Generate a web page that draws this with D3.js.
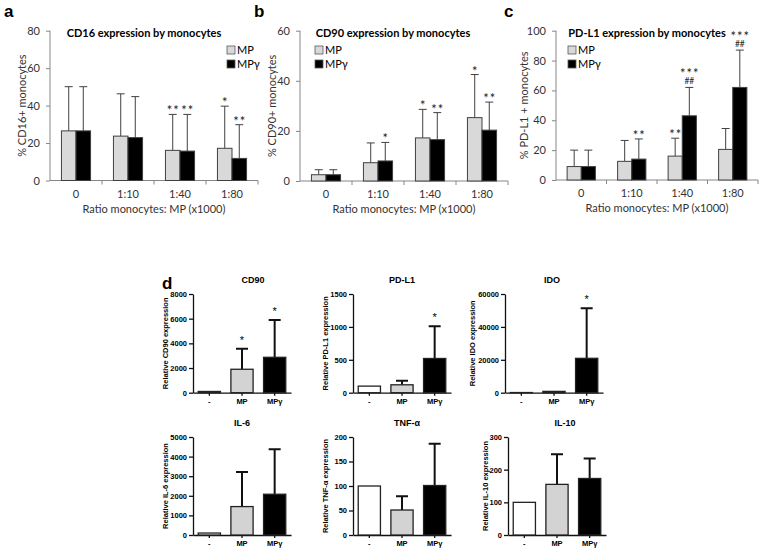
<!DOCTYPE html>
<html>
<head>
<meta charset="utf-8">
<script src="https://cdn.jsdelivr.net/npm/d3@7"></script>
<style>
  body { margin: 0; background: #fff; }
  svg { display: block; }
</style>
</head>
<body>
<script>
// ********************** DATA **************************************************************
// panels a-c : % positive monocytes (mean, SD), by monocyte:MP ratio
var ratios = ["0", "1:10", "1:40", "1:80"];
var seriesNames = ["MP", "MPγ"];

var cd16MP = [26.5, 23.7, 16.1, 17.2];
var cd16MPsd = [23.6, 22.6, 19.2, 22.5];
var cd16MPg = [26.5, 22.9, 15.7, 11.8];
var cd16MPgsd = [23.6, 21.9, 19.6, 18.0];
var cd16Stars = [["", ""], ["", ""], ["**", "**"], ["*", "**"]];

var cd90MP = [2.5, 7.3, 17.2, 25.3];
var cd90MPsd = [2.0, 7.9, 11.4, 17.2];
var cd90MPg = [2.5, 8.0, 16.5, 20.3];
var cd90MPgsd = [2.0, 7.4, 10.8, 11.2];
var cd90Stars = [["", ""], ["", "*"], ["*", "**"], ["*", "**"]];

var pdl1MP = [9.0, 12.5, 16.0, 20.5];
var pdl1MPsd = [11.0, 14.0, 12.0, 14.0];
var pdl1MPg = [9.0, 14.0, 43.0, 62.0];
var pdl1MPgsd = [11.0, 13.5, 19.0, 25.0];
var pdl1Stars = [["", ""], ["", "**"], ["**", "***"], ["", "***"]];
var pdl1Hash = [["", ""], ["", ""], ["", "##"], ["", "##"]];

// panel d : relative expression (mean, SD)
var groups = ["-", "MP", "MPγ"];

var relCD90 = [100, 1900, 2870];
var relCD90sd = [0, 1670, 3020];
var relCD90Stars = ["", "*", "*"];

var relPDL1 = [100, 120, 520];
var relPDL1sd = [0, 60, 490];
var relPDL1Stars = ["", "", "*"];

var relIDO = [100, 800, 20900];
var relIDOsd = [0, 0, 30400];
var relIDOStars = ["", "", "*"];

var relIL6 = [100, 1450, 2080];
var relIL6sd = [0, 1770, 2300];

var relTNF = [100, 51, 101];
var relTNFsd = [0, 28, 85];

var relIL10 = [100, 155, 173];
var relIL10sd = [0, 92, 61];

// ********************** SVG **************************************************************
var svg = d3.select("body").append("svg")
  .attr("width", 760)
  .attr("height", 550);

var excelFont = "Lato, 'Open Sans', sans-serif";
var prismFont = "'Liberation Sans', Arial, sans-serif";

// panel letters
[["a", 4, 17], ["b", 254, 17], ["c", 504, 17], ["d", 162, 289]].forEach(function(l) {
  svg.append("text")
    .attr("x", l[1])
    .attr("y", l[2])
    .text(l[0])
    .style("font-size", "17px")
    .style("font-weight", "bold")
    .style("font-family", "'Liberation Sans', Arial, sans-serif");
});

// ********************** EXCEL STYLE PANELS (a - c) ***************************************
function excelPanel(o) {
  var g = svg.append("g");

  var y = d3.scaleLinear().domain([0, o.max]).range([o.y0, o.y1]);
  var x = d3.scaleBand().domain(ratios).range([o.x0, o.x1]).paddingInner(0.44).paddingOuter(0.22);
  var xs = d3.scaleBand().domain(seriesNames).range([0, x.bandwidth()]);

  // y axis
  var yAxis = g.append("g")
    .attr("transform", "translate(" + o.x0 + ",0)")
    .call(d3.axisLeft(y).tickValues(d3.range(0, o.max + 1, o.step)).tickSize(4).tickPadding(6));
  yAxis.selectAll("line, path").attr("stroke", "#868686");
  yAxis.select(".domain").attr("d", "M0," + o.y0 + "V" + o.y1);
  yAxis.selectAll("text").style("font-size", "11px").style("font-family", excelFont).attr("fill", "#333");

  // x axis with ticks between categories
  var xb = d3.scaleLinear().domain([0, ratios.length]).range([o.x0, o.x1]);
  g.append("line")
    .attr("x1", o.x0).attr("x2", o.x1)
    .attr("y1", o.y0).attr("y2", o.y0)
    .attr("stroke", "#868686");
  g.selectAll(".xtick").data(d3.range(1, ratios.length + 1)).enter().append("line")
    .attr("x1", function(d) { return xb(d); })
    .attr("x2", function(d) { return xb(d); })
    .attr("y1", o.y0).attr("y2", o.y0 + 4)
    .attr("stroke", "#868686");
  g.selectAll(".xlab").data(ratios).enter().append("text")
    .attr("x", function(d) { return x(d) + x.bandwidth() / 2; })
    .attr("y", o.y0 + 17)
    .attr("text-anchor", "middle")
    .text(function(d) { return d; })
    .style("font-size", "11px")
    .style("font-family", excelFont)
    .attr("fill", "#333");

  var series = [
    { name: "MP", mean: o.mp, sd: o.mpsd, fill: "#d9d9d9" },
    { name: "MPγ", mean: o.mpg, sd: o.mpgsd, fill: "#000" }
  ];

  series.forEach(function(s, si) {
    // error bars (upper only)
    g.selectAll(".err" + si).data(ratios).enter().append("path")
      .attr("d", function(d, i) {
        var cx = x(d) + xs(s.name) + xs.bandwidth() / 2;
        var top = y(s.mean[i] + s.sd[i]);
        return "M" + cx + "," + y(s.mean[i]) + "V" + top + "M" + (cx - 4) + "," + top + "H" + (cx + 4);
      })
      .attr("stroke", "#404040")
      .attr("stroke-width", 1)
      .attr("fill", "none");

    g.selectAll(".bar" + si).data(ratios).enter().append("rect")
      .attr("x", function(d) { return x(d) + xs(s.name); })
      .attr("y", function(d, i) { return y(s.mean[i]); })
      .attr("width", xs.bandwidth())
      .attr("height", function(d, i) { return o.y0 - y(s.mean[i]); })
      .attr("fill", s.fill)
      .attr("stroke", "#404040")
      .attr("stroke-width", 1);

    // significance marks (stars, with ## underneath when present)
    var marks = g.selectAll(".star" + si).data(ratios).enter().append("text")
      .filter(function(d, i) { return o.stars[i][si] !== ""; })
      .attr("text-anchor", "middle")
      .style("font-family", excelFont)
      .attr("fill", "#222");

    marks.each(function(d) {
      var i = ratios.indexOf(d);
      var cx = x(d) + xs(s.name) + xs.bandwidth() / 2;
      var top = y(s.mean[i] + s.sd[i]);
      var hash = o.hash ? o.hash[i][si] : "";
      var t = d3.select(this);
      if (hash !== "") {
        t.append("tspan")
          .attr("x", cx + 0.5).attr("y", top - 9)
          .style("font-size", "13px").style("letter-spacing", "1px")
          .text(o.stars[i][si]);
        t.append("tspan")
          .attr("x", cx).attr("y", top - 3.5)
          .style("font-size", "8.5px")
          .text(hash);
      } else {
        t.append("tspan")
          .attr("x", cx + 0.5).attr("y", top + 1)
          .style("font-size", "13px").style("letter-spacing", "1px")
          .text(o.stars[i][si]);
      }
    });
  });

  // title
  g.append("text")
    .attr("x", o.titleX)
    .attr("y", 37)
    .attr("text-anchor", "middle")
    .text(o.title)
    .style("font-size", "11px")
    .style("font-weight", "bold")
    .style("font-family", excelFont);

  // legend
  series.forEach(function(s, i) {
    g.append("rect")
      .attr("x", o.legX)
      .attr("y", o.legY + i * 14 - 4)
      .attr("width", 8)
      .attr("height", 8)
      .attr("fill", s.fill)
      .attr("stroke", "#595959")
      .attr("stroke-width", 0.8);
    g.append("text")
      .attr("x", o.legX + 10)
      .attr("y", o.legY + i * 14 + 4)
      .text(s.name)
      .style("font-size", "11px")
      .style("font-family", excelFont);
  });

  // axis titles
  g.append("text")
    .attr("transform", "translate(" + o.yLabX + "," + ((o.y0 + o.y1) / 2) + ") rotate(-90)")
    .attr("text-anchor", "middle")
    .text(o.yLabel)
    .style("font-size", "11px")
    .style("font-family", excelFont)
    .attr("fill", "#333");
  g.append("text")
    .attr("x", (o.x0 + o.x1) / 2)
    .attr("y", o.y0 + 32)
    .attr("text-anchor", "middle")
    .text("Ratio monocytes: MP (x1000)")
    .style("font-size", "11px")
    .style("font-family", excelFont)
    .attr("fill", "#333");
}

excelPanel({
  x0: 50, x1: 258, y0: 180.5, y1: 30.7, max: 80, step: 20,
  mp: cd16MP, mpsd: cd16MPsd, mpg: cd16MPg, mpgsd: cd16MPgsd, stars: cd16Stars,
  title: "CD16 expression by monocytes", titleX: 144,
  legX: 227, legY: 50, yLabel: "% CD16+ monocytes", yLabX: 26
});

excelPanel({
  x0: 300, x1: 508, y0: 181, y1: 30.7, max: 60, step: 20,
  mp: cd90MP, mpsd: cd90MPsd, mpg: cd90MPg, mpgsd: cd90MPgsd, stars: cd90Stars,
  title: "CD90 expression by monocytes", titleX: 393,
  legX: 315, legY: 50, yLabel: "% CD90+ monocytes", yLabX: 276
});

excelPanel({
  x0: 556, x1: 758, y0: 180, y1: 30.7, max: 100, step: 20,
  mp: pdl1MP, mpsd: pdl1MPsd, mpg: pdl1MPg, mpgsd: pdl1MPgsd, stars: pdl1Stars, hash: pdl1Hash,
  title: "PD-L1 expression by monocytes", titleX: 647,
  legX: 568, legY: 50, yLabel: "% PD-L1 + monocytes", yLabX: 528
});

// ********************** PRISM STYLE PANELS (d) *******************************************
function prismPanel(o) {
  var g = svg.append("g");
  var y = d3.scaleLinear().domain([0, o.max]).range([o.y0, o.y1]);
  var x = d3.scaleBand().domain(groups).range([o.x0, o.x0 + 98]).paddingInner(0.32).paddingOuter(0.16);
  var fills = ["#fff", "#d3d3d3", "#000"];

  var yAxis = g.append("g")
    .attr("transform", "translate(" + o.x0 + ",0)")
    .call(d3.axisLeft(y).tickValues(d3.range(0, o.max + 1, o.step)).tickFormat(d3.format("d"))
      .tickSize(4).tickSizeOuter(0).tickPadding(2));
  yAxis.selectAll("line, path").attr("stroke", "#111").attr("stroke-width", 1.3);
  yAxis.selectAll("text").style("font-size", "7.5px").style("font-weight", "bold").style("font-family", prismFont);

  var xAxis = g.append("g")
    .attr("transform", "translate(0," + o.y0 + ")")
    .call(d3.axisBottom(x).tickSize(3).tickSizeOuter(0).tickPadding(3));
  xAxis.selectAll("line, path").attr("stroke", "#111").attr("stroke-width", 1.3);
  xAxis.selectAll("text").style("font-size", "7.5px").style("font-weight", "bold").style("font-family", prismFont);

  // error bars (upper only)
  g.selectAll(".err").data(groups).enter().append("path")
    .filter(function(d, i) { return o.sd[i] > 0; })
    .attr("d", function(d) {
      var i = groups.indexOf(d);
      var cx = x(d) + x.bandwidth() / 2;
      var top = y(o.mean[i] + o.sd[i]);
      return "M" + cx + "," + y(o.mean[i]) + "V" + top + "M" + (cx - 6) + "," + top + "H" + (cx + 6);
    })
    .attr("stroke", "#111")
    .attr("stroke-width", 2)
    .attr("fill", "none");

  g.selectAll(".bar").data(groups).enter().append("rect")
    .attr("x", function(d) { return x(d); })
    .attr("y", function(d, i) { return y(o.mean[i]); })
    .attr("width", x.bandwidth())
    .attr("height", function(d, i) { return o.y0 - y(o.mean[i]); })
    .attr("fill", function(d, i) { return fills[i]; })
    .attr("stroke", "#222")
    .attr("stroke-width", 1.3);

  if (o.stars) {
    g.selectAll(".star").data(groups).enter().append("text")
      .attr("x", function(d) { return x(d) + x.bandwidth() / 2; })
      .attr("y", function(d, i) { return y(o.mean[i] + o.sd[i]) - 5; })
      .attr("text-anchor", "middle")
      .text(function(d, i) { return o.stars[i]; })
      .style("font-size", "11px")
      .style("font-family", prismFont);
  }

  g.append("text")
    .attr("x", o.titleX)
    .attr("y", o.y1 - 11)
    .attr("text-anchor", "middle")
    .text(o.title)
    .style("font-size", "9px")
    .style("font-weight", "bold")
    .style("font-family", prismFont);

  g.append("text")
    .attr("transform", "translate(" + o.yLabX + "," + ((o.y0 + o.y1) / 2) + ") rotate(-90)")
    .attr("text-anchor", "middle")
    .text(o.yLabel)
    .style("font-size", "7.5px")
    .style("font-weight", "bold")
    .style("font-family", prismFont);
}

prismPanel({ x0: 193, y0: 392.7, y1: 294, max: 8000, step: 2000, mean: relCD90, sd: relCD90sd, stars: relCD90Stars,
  title: "CD90", titleX: 253, yLabel: "Relative CD90 expression", yLabX: 168 });
prismPanel({ x0: 353, y0: 392.7, y1: 294, max: 1500, step: 500, mean: relPDL1, sd: relPDL1sd, stars: relPDL1Stars,
  title: "PD-L1", titleX: 402, yLabel: "Relative PD-L1 expression", yLabX: 328 });
prismPanel({ x0: 505, y0: 392.7, y1: 294, max: 60000, step: 20000, mean: relIDO, sd: relIDOsd, stars: relIDOStars,
  title: "IDO", titleX: 552, yLabel: "Relative IDO expression", yLabX: 475 });
prismPanel({ x0: 193, y0: 535, y1: 437, max: 5000, step: 1000, mean: relIL6, sd: relIL6sd,
  title: "IL-6", titleX: 242, yLabel: "Relative IL-6 expression", yLabX: 168 });
prismPanel({ x0: 353, y0: 535, y1: 437, max: 200, step: 50, mean: relTNF, sd: relTNFsd,
  title: "TNF-α", titleX: 407, yLabel: "Relative TNF-α expression", yLabX: 328 });
prismPanel({ x0: 508, y0: 535, y1: 437, max: 300, step: 100, mean: relIL10, sd: relIL10sd,
  title: "IL-10", titleX: 565, yLabel: "Relative IL-10 expression", yLabX: 488 });
</script>
</body>
</html>
